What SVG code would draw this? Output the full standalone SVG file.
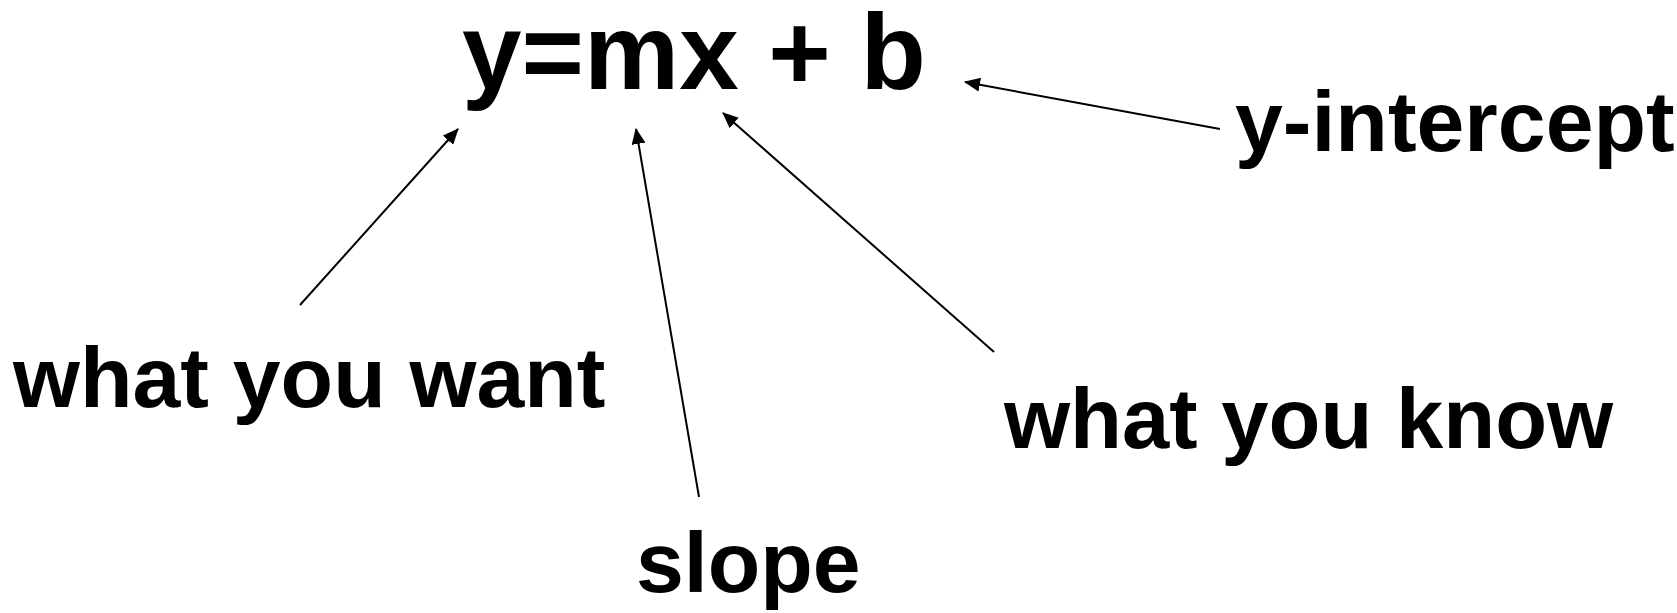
<svg xmlns="http://www.w3.org/2000/svg" width="1677" height="613" viewBox="0 0 1677 613">
  <style>
    .lbl { font-family: "Liberation Sans", Arial, sans-serif; font-weight: bold; fill: #000; }
    .conn { stroke: #000; stroke-width: 2; fill: none; marker-end: url(#arr); }
  </style>
  <defs>
    <marker id="arr" markerUnits="userSpaceOnUse" markerWidth="16" markerHeight="14" refX="15" refY="7" orient="auto">
      <path d="M0,0 L16,7 L0,14 Z" fill="#000"/>
    </marker>
  </defs>
  <rect width="1677" height="613" fill="#fff"/>
  <g id="equation">
    <text class="lbl" x="462" y="89" font-size="107">y=mx + b</text>
  </g>
  <g id="y-intercept">
    <text class="lbl" x="1235" y="151" font-size="86">y-intercept</text>
  </g>
  <g id="what-you-want">
    <text class="lbl" x="13" y="407" font-size="86">what you want</text>
  </g>
  <g id="what-you-know">
    <text class="lbl" x="1004" y="448" font-size="85">what you know</text>
  </g>
  <g id="slope">
    <text class="lbl" x="636" y="592" font-size="86">slope</text>
  </g>
  <g id="connectors">
    <line class="conn" x1="300" y1="305" x2="458" y2="129"/>
    <line class="conn" x1="699" y1="497" x2="636" y2="129"/>
    <line class="conn" x1="994" y1="352" x2="723" y2="113"/>
    <line class="conn" x1="1220" y1="129" x2="965" y2="82"/>
  </g>
</svg>
